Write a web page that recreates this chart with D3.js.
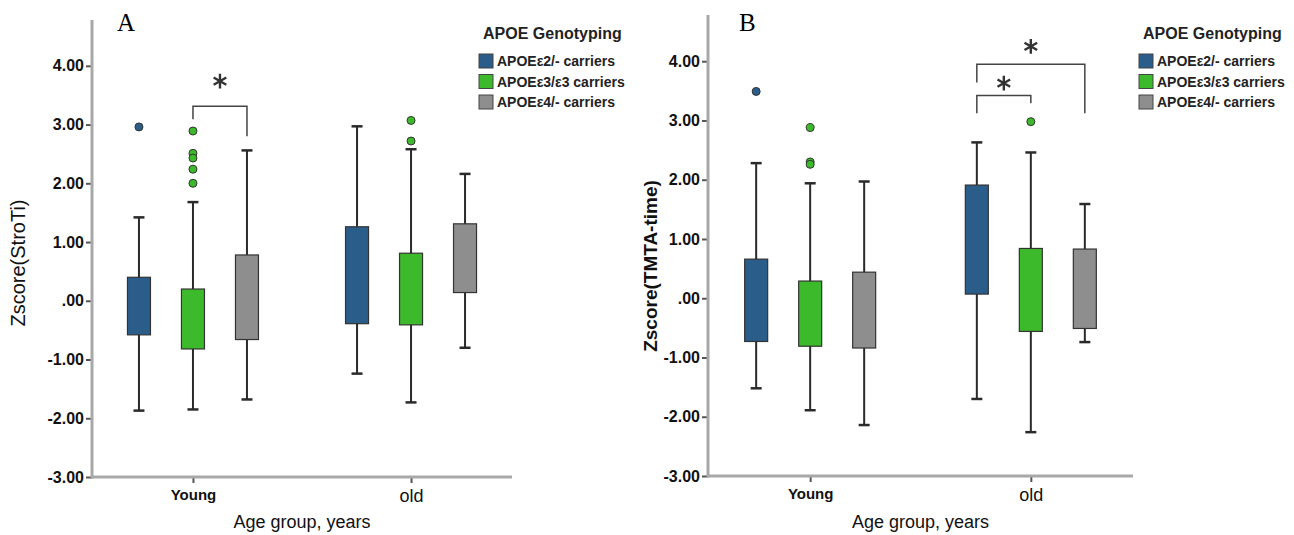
<!DOCTYPE html>
<html>
<head>
<meta charset="utf-8">
<script src="https://cdn.jsdelivr.net/npm/d3@7"></script>
<style>
  body { margin: 0; background: #fff; }
  text { font-family: Arial, "Liberation Sans", sans-serif; }
</style>
</head>
<body>
<div id="chart"></div>
<script>
// categories
var groups = ["Young", "old"];
var series = ["APOEε2/- carriers", "APOEε3/ε3 carriers", "APOEε4/- carriers"];
var yTicks = [-3, -2, -1, 0, 1, 2, 3, 4];

// panel A, Zscore(StroTi) -- order: Young e2, e3, e4, old e2, e3, e4
var stroLow = [-1.87, -1.85, -1.68, -1.24, -1.73, -0.80];
var stroQ1 = [-0.58, -0.82, -0.66, -0.39, -0.41, 0.14];
var stroQ3 = [0.40, 0.20, 0.78, 1.26, 0.81, 1.31];
var stroHigh = [1.42, 1.68, 2.56, 2.97, 2.58, 2.16];
var stroOut = [[2.96], [2.89, 2.51, 2.43, 2.24, 2.00], [], [], [3.07, 2.72], []];
// significance: group, from series, to series, bar value, left leg end, right leg end, star value
var stroSig = [["Young", 1, 2, 3.31, 3.09, 2.80, 3.74]];

// panel B, Zscore(TMTA-time)
var tmtLow = [-1.52, -1.89, -2.14, -1.70, -2.26, -0.74];
var tmtQ1 = [-0.73, -0.81, -0.84, 0.07, -0.56, -0.51];
var tmtQ3 = [0.66, 0.29, 0.44, 1.91, 0.84, 0.83];
var tmtHigh = [2.28, 1.94, 1.97, 2.63, 2.46, 1.59];
var tmtOut = [[3.49], [2.88, 2.30, 2.26], [], [], [2.98], []];
var tmtSig = [["old", 0, 2, 3.95, 3.64, 3.12, 4.25], ["old", 0, 1, 3.42, 3.12, 3.29, 3.63]];

var colors = ["#2b5d8b", "#3dba2c", "#8e8e8e"];

var W = 1294, H = 535;
var svg = d3.select('#chart').append('svg')
  .attr('width', W).attr('height', H)
  .style('background', '#fff');

function drawPanel(p){
  var g = svg.append('g');
  var y = d3.scaleLinear().domain([-3, 4.78]).range([p.bottom, p.top]);
  var x = d3.scalePoint().domain(groups).range([p.left, p.right]).padding(0.463);
  var off = d3.scalePoint().domain(d3.range(series.length)).range([-54, 54]);
  var bw = 23;

  // y axis
  var ya = g.append('g').attr('transform', 'translate(' + p.left + ',0)')
    .call(d3.axisLeft(y).tickValues(yTicks).tickSize(6).tickPadding(2)
      .tickFormat(function(d){ return d === 0 ? '.00' : d.toFixed(2); }));
  ya.select('.domain').remove();
  ya.selectAll('.tick line').attr('stroke', '#555').attr('stroke-width', 2);
  ya.selectAll('.tick text').attr('fill', '#111').style('font-size', '16px').style('font-weight', 'bold');
  g.append('line').attr('x1', p.left).attr('x2', p.left)
    .attr('y1', p.top).attr('y2', p.bottom + 1.5)
    .attr('stroke', '#a8a8a8').attr('stroke-width', 3);

  // x axis
  var xa = g.append('g').attr('transform', 'translate(0,' + p.bottom + ')')
    .call(d3.axisBottom(x).tickSize(6).tickPadding(6));
  xa.select('.domain').remove();
  xa.selectAll('.tick line').attr('stroke', '#555').attr('stroke-width', 2);
  xa.selectAll('.tick text').attr('fill', '#111')
    .style('font-size', function(d){ return d === 'Young' ? '15px' : '18px'; })
    .style('font-weight', function(d){ return d === 'Young' ? 'bold' : 'normal'; });
  g.append('line').attr('x1', p.left).attr('x2', p.right)
    .attr('y1', p.bottom).attr('y2', p.bottom)
    .attr('stroke', '#a8a8a8').attr('stroke-width', 3);

  // boxes
  var rows = [];
  groups.forEach(function(gr, gi){
    series.forEach(function(s, si){
      var k = gi * series.length + si;
      rows.push({cx: x(gr) + off(si), si: si, low: p.low[k], q1: p.q1[k], q3: p.q3[k], high: p.high[k], out: p.out[k]});
    });
  });
  var b = g.selectAll('.box').data(rows).enter().append('g').attr('class', 'box');
  b.append('line').attr('x1', function(d){ return d.cx; }).attr('x2', function(d){ return d.cx; })
    .attr('y1', function(d){ return y(d.low); }).attr('y2', function(d){ return y(d.high); })
    .attr('stroke', '#2a2a2a').attr('stroke-width', 2);
  b.selectAll('.cap').data(function(d){ return [[d.cx, d.low], [d.cx, d.high]]; }).enter()
    .append('line').attr('x1', function(d){ return d[0] - 5.5; }).attr('x2', function(d){ return d[0] + 5.5; })
    .attr('y1', function(d){ return y(d[1]); }).attr('y2', function(d){ return y(d[1]); })
    .attr('stroke', '#2a2a2a').attr('stroke-width', 2.5);
  b.append('rect').attr('x', function(d){ return d.cx - bw / 2; })
    .attr('y', function(d){ return y(d.q3); })
    .attr('width', bw).attr('height', function(d){ return y(d.q1) - y(d.q3); })
    .attr('fill', function(d){ return colors[d.si]; })
    .attr('stroke', '#333').attr('stroke-width', 1.2);
  b.selectAll('circle').data(function(d){ return d.out.map(function(v){ return [d.cx, v, d.si]; }); })
    .enter().append('circle')
    .attr('cx', function(d){ return d[0]; }).attr('cy', function(d){ return y(d[1]); })
    .attr('r', 4).attr('fill', function(d){ return colors[d[2]]; })
    .attr('stroke', '#333').attr('stroke-width', 1);

  // significance brackets
  p.sig.forEach(function(s){
    var x1 = x(s[0]) + off(s[1]), x2 = x(s[0]) + off(s[2]);
    g.append('path')
      .attr('d', 'M' + x1 + ',' + y(s[4]) + 'V' + y(s[3]) + 'H' + x2 + 'V' + y(s[5]))
      .attr('fill', 'none').attr('stroke', '#444').attr('stroke-width', 1.5);
    g.append('path').attr('d', d3.symbol(d3.symbolAsterisk, 150)())
      .attr('transform', 'translate(' + ((x1 + x2) / 2) + ',' + y(s[6]) + ')')
      .attr('fill', 'none').attr('stroke', '#333').attr('stroke-width', 2.4);
  });

  // titles
  g.append('text').attr('x', p.letterX).attr('y', 31).text(p.letter)
    .style('font-family', '"Liberation Serif", "DejaVu Serif", serif').style('font-size', '25px');
  g.append('text').attr('transform', 'translate(' + p.ytX + ',' + p.ytY + ') rotate(-90)')
    .attr('text-anchor', 'middle').text(p.ytitle)
    .style('font-size', p.ytSize).style('font-weight', p.ytBold ? 'bold' : 'normal').attr('fill', '#111');
  g.append('text').attr('x', (p.left + p.right) / 2).attr('y', 528)
    .attr('text-anchor', 'middle').text('Age group, years')
    .style('font-size', '18px').attr('fill', '#111');

  // legend
  var lg = g.append('g').attr('transform', 'translate(' + p.legX + ',0)');
  lg.append('text').attr('x', 4).attr('y', 39).text('APOE Genotyping')
    .style('font-size', '16px').style('font-weight', 'bold').attr('fill', '#222');
  var li = lg.selectAll('.li').data(series).enter().append('g')
    .attr('transform', function(d, i){ return 'translate(0,' + (54 + i * 20.5) + ')'; });
  li.append('rect').attr('width', 14).attr('height', 14)
    .attr('fill', function(d, i){ return colors[i]; }).attr('stroke', '#444').attr('stroke-width', 1);
  li.append('text').attr('x', 18).attr('y', 12).text(function(d){ return d; })
    .style('font-size', '14px').style('font-weight', 'bold').attr('fill', '#222');
}

drawPanel({left: 92, right: 512, top: 20, bottom: 477, low: stroLow, q1: stroQ1, q3: stroQ3, high: stroHigh,
  out: stroOut, sig: stroSig, letter: 'A', letterX: 117, ytitle: 'Zscore(StroTi)', ytX: 25, ytY: 263, ytSize: '20px', ytBold: false, legX: 479});
drawPanel({left: 708, right: 1133, top: 15, bottom: 476, low: tmtLow, q1: tmtQ1, q3: tmtQ3, high: tmtHigh,
  out: tmtOut, sig: tmtSig, letter: 'B', letterX: 739, ytitle: 'Zscore(TMTA-time)', ytX: 657, ytY: 266, ytSize: '19px', ytBold: true, legX: 1139});
</script>
</body>
</html>
